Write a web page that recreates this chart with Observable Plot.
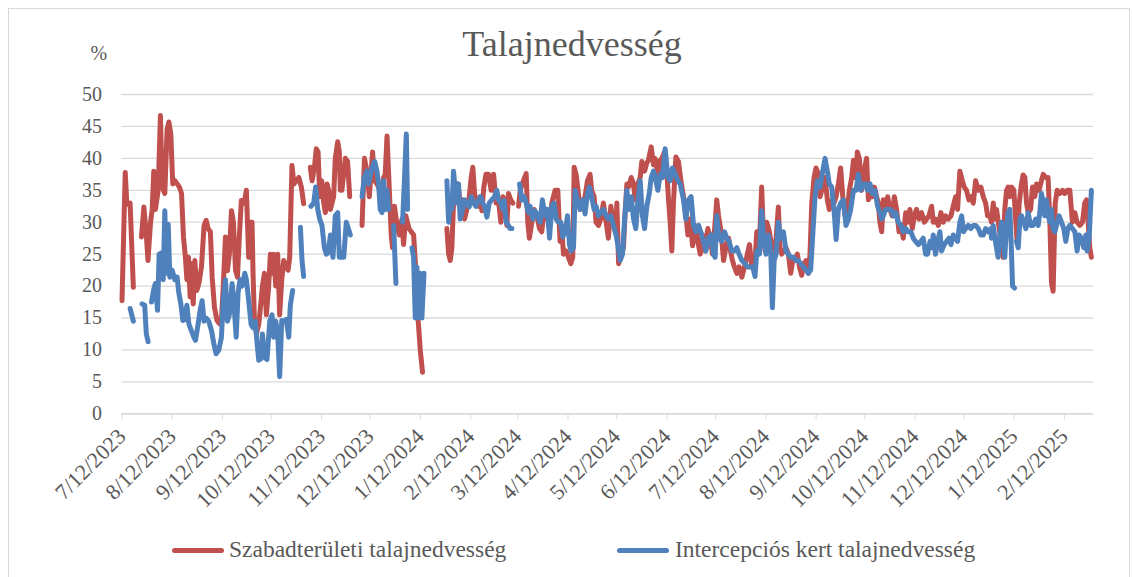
<!DOCTYPE html>
<html>
<head>
<meta charset="utf-8">
<script src="https://cdn.jsdelivr.net/npm/d3@7"></script>
<script src="https://cdn.jsdelivr.net/npm/@observablehq/plot@0.6"></script>
<style>
  html, body { margin: 0; padding: 0; background: #fff; font-family: 'Liberation Serif'; }
  body { width: 1132px; height: 577px; overflow: hidden; position: relative; color: #595959; }
  #frame { position: absolute; left: 8px; top: 8px; width: 1122px; height: 600px; border: 1px solid #d9d9d9; box-sizing: border-box; }
  #title { position: absolute; left: 572px; top: 26px; transform: translateX(-50%); font-size: 36px; line-height: 36px; white-space: nowrap; color: #595959; }
  #chart { position: absolute; left: 0; top: 42px; }
  .leg { position: absolute; top: 538px; font-size: 23.5px; line-height: 23.5px; white-space: nowrap; color: #595959; }
  .sw { position: absolute; top: 548px; width: 52px; height: 5px; border-radius: 2.5px; }
</style>
</head>
<body>
<div id="frame"></div>
<div id="title"></div>
<div id="chart"></div>
<div class="sw" id="sw0"></div><div class="leg" id="lg0"></div>
<div class="sw" id="sw1"></div><div class="leg" id="lg1"></div>
<script>
// ---- data (day = days since 7/12/2023, value = %) ----
const chartTitle = "Talajnedvesség";
const yUnit = "%";
const seriesNames = ["Szabadterületi talajnedvesség", "Intercepciós kert talajnedvesség"];
const seriesColors = ["#C0504D", "#4F81BD"];
const yTicks = [0, 5, 10, 15, 20, 25, 30, 35, 40, 45, 50];
const monthLabels = ["7/12/2023","8/12/2023","9/12/2023","10/12/2023","11/12/2023","12/12/2023","1/12/2024","2/12/2024","3/12/2024","4/12/2024","5/12/2024","6/12/2024","7/12/2024","8/12/2024","9/12/2024","10/12/2024","11/12/2024","12/12/2024","1/12/2025","2/12/2025"];
const startDate = "7/12/2023";
const endDay = 599;

const red = [
[0,17.7],[2,37.8],[3,32.8],[5,33],[7,19.8],[9.5,null],
[12,27.7],[13.5,32.4],[15,28],[16,24],[17.6,30],[18.6,32],[19.6,38],[20.6,32],[22.3,35],[23.7,46.7],[24.8,35.5],[26.4,34.5],[27.8,44.5],[28.9,45.7],[30.1,43.8],[31.3,36],[32.6,36.5],[34,36],[35.4,35.5],[36.7,34.5],[37.9,27.7],[39.1,24.5],[40,21],[41,24.5],[42,18.3],[43,23.5],[43.9,17.2],[44.9,24],[46.1,19.3],[47.4,20.4],[49,23],[50.6,29.5],[51.9,30.3],[53.1,29],[54.5,28.5],[55.6,21.4],[57,16.7],[58.6,14.6],[60.1,14.1],[61.3,14.6],[62.5,20.4],[63.8,27.7],[65,22.4],[66.2,25],[67.5,31.8],[68.7,30],[70,22.5],[71.2,21.4],[72.4,28],[73.6,33.4],[75.3,33],[76.7,35],[78.1,24.5],[79.2,30],[80.2,30],[80.8,22],[81.6,15],[82.9,12.5],[84.3,14],[85.7,17.5],[86.6,20],[87.8,22],[89,15.5],[90.3,19.5],[91.5,25],[92.5,22],[93.5,25],[94.8,20],[96,25],[97.2,15.5],[98.5,21],[99.7,24],[101,23],[102.4,22.5],[103.4,24.5],[104.8,38.9],[106,36],[109,37],[110.6,35.5],[112,32.9],[114,null],
[116.1,38.6],[117.2,36.5],[118.6,38.5],[119.8,41.5],[120.9,41],[121.9,34],[123.1,36.5],[124.4,33],[125.4,31.5],[126.4,36],[127.4,35],[128.5,32],[130.5,34],[131.5,40],[133,42.6],[134,41],[134.6,35],[135.6,35],[137.7,40],[139.1,39.5],[140.4,34],[144,null],
[148,29.5],[149.5,40],[151,38],[152.5,34],[154.5,41],[155.8,36.5],[157.2,36],[158.2,35.5],[159.9,34.5],[161.3,37],[162.3,37.5],[163.4,43.5],[164.5,37],[166,28],[166.8,26],[168,32.5],[169.3,30],[171,28],[172.6,30.5],[173.6,26.5],[175,31],[177,29],[179.8,28],[180.8,24],[182.5,15],[183.9,10],[185.3,6.5],[190,null],
[200.3,29],[201.4,25],[202.4,24],[203.4,26],[204.4,33],[205.5,34],[207.1,36],[208.5,33],[210,33.5],[211.2,30.5],[212.6,32],[214.1,34],[215.3,37],[216.3,38.6],[217.4,34.5],[218.6,33],[219.8,32.5],[220.9,34],[221.9,31.8],[223.1,35.5],[224.4,37.5],[226,37.5],[227.6,35],[229.1,37.5],[230.7,33],[232.1,33.4],[233.6,30],[234.8,34],[236.2,33.4],[237.3,29.5],[238.3,34.5],[239.7,33.5],[241,33],[243,null],
[244.5,32.5],[245.5,35],[247.5,36.5],[249.2,37.6],[250.2,30],[251.2,27.5],[252.7,30],[254.1,32],[255.8,31],[257.4,29],[258.8,28.5],[260.3,32],[261.9,31.5],[263.6,29],[265,33],[267,35],[268.7,35],[270.1,27],[271.2,29],[272.2,25],[273.8,25.5],[275.3,24.5],[276.7,23.5],[277.9,24.5],[278.8,38.6],[280,37.5],[281.4,34.5],[282.5,32],[284.1,33],[285.5,34],[287,36.5],[288.6,37.5],[289.6,35],[291.1,34],[292.3,30],[293.8,29.5],[295.2,30.5],[296.8,33],[298.5,30],[299.9,27.5],[301.4,32.5],[303,30],[304.6,28.5],[305.1,33],[306.2,23.5],[307.8,25],[309.2,26],[310.3,32],[311.3,36],[312.3,35.5],[314,37],[315.4,36],[316.4,33.5],[318.1,36],[319.5,37],[320.5,39.5],[322.2,38],[323.6,39.3],[324.6,39.7],[326.3,41.8],[327.7,39],[328.7,40],[330.4,37.5],[331.8,39.7],[332.9,40],[334.5,41],[335.9,38],[337,33.4],[338,30],[339,25.5],[340,33],[341.5,40.2],[343.1,39.5],[344.6,36.5],[346.2,34],[347.6,31.5],[348.9,28],[350.3,30.5],[351.8,26.3],[353.4,29.5],[355,27],[356.5,25],[357.9,28],[359.6,25.5],[361.2,29],[362.6,27.5],[364.1,25],[365.7,30],[366.7,33.5],[367.8,31],[369.4,28.5],[370.9,24],[372.3,26],[374,27.5],[375.2,25.5],[376.4,24],[377.6,23],[379.1,22],[380.5,23],[382.2,21.4],[383.8,23],[385.6,25],[386.9,26.5],[388.3,23],[389.3,24.5],[390.3,24],[391.4,28.5],[392.4,27],[393.4,29],[394.4,35.5],[395.5,28],[396.5,25.5],[397.5,30],[399.2,28.5],[400.6,26],[401.6,25],[403.3,27.5],[404.7,32.4],[405.7,26],[406.8,25],[407.8,25.5],[409.4,26],[410.9,25],[412.3,22],[413.6,24],[415,24],[416.4,25],[417.7,23],[419.1,21.7],[420.5,23.5],[421.8,24],[423.2,22],[424.2,25],[425.3,33],[426.7,37],[427.9,38.5],[429.4,37.5],[430.4,34],[432,35.5],[433.5,37],[434.9,33.5],[436.1,32],[437.6,33.4],[439,33],[440.3,34],[441.7,36],[443.1,38.5],[444.4,34],[445.8,31],[447.2,32],[448.5,35],[449.9,37],[451,39.7],[452.2,37],[453.4,41],[454.6,40],[456.1,35],[457.5,38],[459.1,40],[460.2,33.5],[461.2,34.5],[462.6,34],[463.9,35.5],[465.3,34],[466.3,33],[467.3,30],[468.4,28.5],[469.4,33.5],[470.8,32],[472.1,34],[473.5,32],[474.9,31],[476.2,34],[477.6,32],[479.1,28.5],[480.3,29.5],[481.7,27.5],[483.2,31.5],[484.4,30],[485.8,32],[487.3,29],[488.5,31],[489.9,32],[491.4,30.5],[493,31.5],[494.7,30],[496.1,30.5],[497.5,31],[499.2,32.5],[500.2,30],[501.6,30.5],[503.3,29.5],[504.9,31.5],[506.4,30],[507.8,31],[509.5,30.5],[511.1,31],[512.5,32.5],[514,34],[515.2,32],[516.6,38],[518.1,36.5],[519.3,35.5],[520.7,35],[522.2,33.5],[523.4,34],[524.9,33],[526.3,36.5],[528,35],[529.6,35.5],[531,34],[532.5,33],[533.7,31],[535.1,31],[536.1,30],[537.2,33],[538.2,30.5],[539.2,32],[540.9,29],[542.3,26.5],[543.3,24.5],[544.3,32],[545.4,35],[546.4,35.5],[547.4,34],[548.5,35.5],[549.9,35],[551.1,30],[551.9,27],[553.2,33],[554.6,36],[555.6,37.4],[556.7,37],[557.7,33],[558.7,31.5],[560.2,32],[561.4,35.5],[562.8,34],[563.9,36],[565.5,35],[566.9,36.5],[568,37.5],[569.6,37],[571,37],[572.1,30],[573.1,20.5],[574.1,19.2],[575.4,33],[576.6,35],[578.2,34.5],[579.9,35],[581.3,34.5],[582.8,35],[584.4,35],[586,30],[587.5,31.5],[588.9,30],[590.6,29.5],[592.2,30],[593.6,33],[594.7,33.5],[595.7,30],[596.7,26],[597.7,24.5]
];

const blue = [
[5,16.5],[7,14.5],[9,null],
[12.4,17.2],[14,17],[15,12.5],[16.1,11.3],[17,null],
[18.2,17.5],[19.6,19.5],[20.6,20.4],[21.9,16.2],[22.9,25],[24.3,25.2],[25.4,21],[26.4,31.8],[27.4,22],[28.5,29.7],[29.5,21.4],[30.9,22.5],[32.6,21],[34,21.4],[35,19],[36.3,17.2],[37.5,14.6],[38.7,14.8],[40,17],[41.2,14.1],[42.8,13],[44.3,12],[45.3,11.5],[46.9,14],[48.4,16.5],[49.4,17.7],[50.6,14.5],[51.9,15],[53.5,14.5],[55.2,13],[56.6,11],[58,9.4],[59.7,10],[61.3,12],[62.5,18],[63.8,21],[65,14.5],[66.2,15.5],[67.9,20.4],[69.1,17],[70.4,12],[71.6,19],[72.8,21],[74,20],[75.7,22],[76.7,21],[78,18],[79.6,14],[80.8,13.5],[82.2,14.5],[83.3,11],[84.3,8.4],[85.7,8.6],[86.6,12.5],[87.8,8.9],[89.4,8.5],[91.1,14.5],[92.5,15.5],[93.5,12],[94.8,14.5],[96,12.5],[97.2,5.8],[98.5,14.6],[100.1,14.5],[101.3,14.8],[102.8,12],[103.8,17],[105.2,19.3],[107,null],
[110,29.2],[111,24],[112,21.5],[114,null],
[116.5,32.5],[118.2,33],[119.4,35.5],[120.7,32],[121.9,30.5],[123.3,29.5],[124.8,26],[126,25],[127.2,25.2],[128.5,28],[130.1,24.5],[131.5,31],[133,31.5],[134,24.5],[135.2,24.5],[136.7,24.5],[138.3,30],[139.6,29],[140.8,28],[144,null],
[148,34],[149.4,37],[151,38],[152,36],[154.1,38.5],[155.8,39.5],[157.2,38],[158.2,36],[159.2,32],[160.3,31.5],[161.3,36.5],[162.3,32],[163.4,35],[164.4,32],[166,null],
[167.5,29.5],[168.9,20.4],[171,null],
[173,30],[174.2,37],[175.3,43.8],[176.1,32],[177.5,null],
[178.8,26],[179.8,24.5],[180.8,15],[181.8,23],[182.9,15],[183.9,22],[184.9,15],[186.2,22],[190,null],
[200.3,36.5],[201.4,30],[202.4,33],[203.4,32],[204.4,38],[205.5,35],[206.5,33],[207.5,36],[208.5,30.5],[210,32],[211.2,33.5],[212.6,33],[214.1,32.4],[215.3,34],[216.8,33],[218.2,32.5],[219.8,33.5],[221.1,34],[222.3,33],[223.5,32.5],[225,30.8],[226.4,33],[228,33.5],[229.7,34],[231.1,35],[232.1,33.5],[233.6,33],[234.8,32],[235.6,33.4],[236.9,30],[238.3,29.5],[239.3,29],[240.4,29],[243,null],
[245.1,36],[246.5,33.5],[248,34],[249.2,33],[250.6,31.5],[251.6,32.5],[253.3,30.5],[254.7,31.8],[256.2,31],[257.8,30],[259.2,33.5],[260.9,31],[262.3,32],[263.6,27.5],[265,32.5],[266.4,33],[267.7,30.5],[269.1,30],[270.5,30],[271.8,27.7],[273.2,28.5],[274.7,31],[275.9,26.5],[276.9,25.5],[278.4,26],[279.4,35],[280.8,33.5],[282.5,32],[284.1,33.5],[285.5,31.3],[287,34.5],[288.2,35.5],[289.6,34],[291.1,32],[292.3,32.5],[293.8,31],[295.2,31.5],[296.8,32],[298.5,31],[299.9,30.5],[301.4,31],[303,29.5],[304.6,28],[305.7,26.5],[307.2,24],[308.6,25],[309.9,30.5],[311.3,35],[312.7,32],[314,34],[315.4,30.5],[316.8,29],[318.1,33.4],[319.5,36.5],[320.9,31],[322.2,29],[323.6,32.5],[325.1,34.5],[326.3,37],[327.7,38],[329.2,36.5],[330.4,35],[331.8,37.5],[333.3,37],[334.9,41.5],[336.6,37],[338,36.5],[339.4,38.5],[341.1,37.5],[342.7,36.5],[344.2,36],[346.2,33.5],[347.6,30.5],[349.3,33.5],[350.9,34],[352.4,29.5],[353.8,28.5],[355.5,29.5],[357.1,28.3],[358.5,27],[360,25.5],[361.6,27.5],[363.3,28],[364.7,25],[365.7,24.5],[366.7,31],[368.2,27.5],[369.8,27],[371.5,28.5],[372.9,27.5],[374.3,27],[376,25.5],[377.6,25.5],[379.1,26],[380.5,25],[382.2,24],[384.2,23.5],[385.6,23],[387.3,23],[388.9,23],[390.3,21.5],[391.4,25.5],[393,25],[394.4,31.8],[395.5,28],[397.1,25],[398.6,28],[400,25.5],[401,16.6],[402.1,24],[403.3,25],[404.7,30],[406.2,27.5],[407.8,28.5],[409.4,25.5],[410.9,25],[412.3,24.5],[414,24.5],[415.6,24],[417,24],[418.5,23.5],[420.1,23],[421.8,22.5],[423.2,22],[424.6,22.5],[425.9,28],[427.3,34],[428.8,36.5],[430.4,35.5],[432,38],[433.5,40],[434.9,38],[436.1,36],[437.6,35.5],[439,32],[440.3,27.3],[441.7,32],[443.1,33],[444.8,33.5],[446.4,29.5],[447.9,30.5],[449.3,32],[451,35],[452.6,35],[454,37.5],[455.5,35],[457.1,36],[458.7,36],[459.7,35],[461.2,36],[462.6,34.5],[464.3,35],[465.9,32.5],[467.3,31.5],[468.4,30.5],[469.4,31],[470.8,32],[472.5,32],[474.1,32],[475.6,31],[477,31.5],[478.6,30],[480.3,29.5],[481.7,28.5],[483.2,29],[484.8,28.5],[486.4,28.5],[487.9,27.5],[489.3,27],[491,26.5],[492.6,27],[494,27.5],[495.5,25],[496.7,25],[498.2,27],[499.2,26],[500.2,28],[501.6,25],[502.9,27],[504.3,28.5],[505.3,25.5],[507,26.5],[508.4,27],[509.9,27.5],[511.1,26.5],[512.5,28],[514,27.5],[515.2,27],[516.6,30],[517.7,31],[518.9,28.5],[520.1,29],[521.8,29.5],[523.4,29],[524.9,29.5],[526.3,29.5],[528,29],[529.6,28],[531,28],[532.5,29],[534.1,28.5],[535.7,29],[536.1,27.5],[537.2,29.5],[538.2,27.5],[539.2,26],[540.2,24.5],[541.3,28],[542.3,30],[543.3,28.5],[544.3,24.5],[545.4,29.5],[546.4,31.5],[547.4,32],[548.2,27],[549.1,20],[550.3,19.7],[551,null],
[551.5,27],[552.6,26],[553.6,30.5],[554.6,31],[556,30],[557.3,29],[558.7,31.5],[560.2,29.5],[561.8,29.5],[563.4,30.5],[564.9,29.5],[565.9,31.5],[566.9,34.5],[568,33],[569,31],[570,33.5],[571.1,31],[572.1,30],[573.1,32],[574.1,29],[575.2,28.5],[576.2,29.5],[577.8,31],[579.3,30],[580.7,29],[581.9,27],[583.2,29],[584.4,29.5],[586,29],[587.5,28.5],[588.9,25.5],[590.1,28],[591.6,27.5],[593,26],[594.3,28],[595.1,25.5],[596.3,27.5],[597.7,35]
];

// ---- build ----
const parse = d3.utcParse("%m/%d/%Y");
const t0 = parse(startDate);
const toDate = day => new Date(+t0 + day * 864e5);
const monthDates = monthLabels.map(parse);
const labelOf = new Map(monthDates.map((d, i) => [+d, monthLabels[i]]));
const rows = (arr) => arr.map(([day, v]) => ({date: toDate(day), value: v}));
const redRows = rows(red), blueRows = rows(blue);

const chart = Plot.plot({
  width: 1132,
  height: 470,
  marginLeft: 121.5,
  marginRight: 39,
  marginTop: 52,
  marginBottom: 98.7,
  style: {fontFamily: "'Liberation Serif'", fontSize: "20px", color: "#595959", background: "transparent", overflow: "visible"},
  x: {type: "utc", domain: [toDate(0), toDate(endDay)]},
  y: {domain: [0, 50]},
  marks: [
    Plot.gridY(yTicks, {stroke: "#d9d9d9", strokeOpacity: 1, strokeWidth: 1.3}),
    Plot.ruleY([0], {stroke: "#d9d9d9", strokeWidth: 1.6}),
    Plot.axisY(yTicks, {tickSize: 0, tickPadding: 20, label: yUnit, labelAnchor: "top", labelOffset: 31.5, labelArrow: false, fontSize: 20}),
    Plot.axisX(monthDates, {tickFormat: d => labelOf.get(+d), tickRotate: -45, tickSize: 6, tickPadding: 13, stroke: "#d9d9d9", strokeOpacity: 1, label: null, fontSize: 22}),
    Plot.line(redRows, {x: "date", y: "value", stroke: seriesColors[0], strokeWidth: 5, strokeLinejoin: "round", strokeLinecap: "round"}),
    Plot.line(blueRows, {x: "date", y: "value", stroke: seriesColors[1], strokeWidth: 5, strokeLinejoin: "round", strokeLinecap: "round"})
  ]
});
document.getElementById("chart").appendChild(chart);

document.getElementById("title").textContent = chartTitle;
const legPos = [[172, 229], [617, 675]];
seriesNames.forEach((n, i) => {
  const sw = document.getElementById("sw" + i);
  sw.style.left = legPos[i][0] + "px";
  sw.style.background = seriesColors[i];
  const lg = document.getElementById("lg" + i);
  lg.style.left = legPos[i][1] + "px";
  lg.textContent = n;
});
</script>
</body>
</html>
